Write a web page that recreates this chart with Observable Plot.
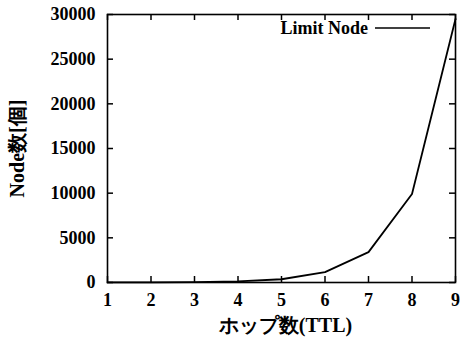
<!DOCTYPE html>
<html><head><meta charset="utf-8">
<script src="https://cdn.jsdelivr.net/npm/d3@7"></script>
<script src="https://cdn.jsdelivr.net/npm/@observablehq/plot@0.6"></script>
<style>
body{margin:0;background:#fff;}
svg text{font-family:"Liberation Serif","Times New Roman","DejaVu Serif",serif !important;}
</style>
</head><body><div id="chart"></div>
<script>
const hops = [1, 2, 3, 4, 5, 6, 7, 8, 9];
const nodes = [4, 13, 40, 121, 364, 1160, 3400, 9900, 29500];
const seriesName = "Limit Node";
const xTicks = [1, 2, 3, 4, 5, 6, 7, 8, 9];
const yTicks = [0, 5000, 10000, 15000, 20000, 25000, 30000];
const xLabel = "ホップ数(TTL)";
const yLabel = "Node数[個]";

const data = hops.map((h, i) => ({h, n: nodes[i]}));

const W = 460, H = 344, ML = 107, MR = 5, MT = 14, MB = 62, TICK = 6;
const FW = W - ML - MR, FH = H - MT - MB;

const legend = (index, scales, values, dim) => {
  const g = d3.create("svg:g");
  const y = dim.marginTop + 14;
  const x1 = dim.width - dim.marginRight - 80;
  g.append("line").attr("x1", x1).attr("x2", x1 + 55).attr("y1", y).attr("y2", y)
    .attr("stroke", "#000").attr("stroke-width", 1.6);
  g.append("text").attr("x", x1 - 7).attr("y", y).attr("dy", "0.35em")
    .attr("text-anchor", "end").attr("font-size", 18).attr("font-weight", "bold")
    .text(seriesName);
  return g.node();
};

const chart = Plot.plot({
  width: W,
  height: H,
  marginLeft: ML,
  marginRight: MR,
  marginTop: MT,
  marginBottom: MB,
  style: {fontSize: "18px", fontWeight: "bold", color: "#000", background: "#fff"},
  x: {domain: [1, 9]},
  y: {domain: [0, 30000]},
  marks: [
    Plot.axisX({ticks: xTicks, tickSize: 0, tickPadding: 11, label: null, tickFormat: d => String(d), fontSize: 18}),
    Plot.axisY({ticks: yTicks, tickSize: 0, tickPadding: 12, label: null, tickFormat: d => String(d), fontSize: 18}),
    Plot.tickX(xTicks, {x: d => d, insetTop: FH - TICK, stroke: "#000", strokeWidth: 1.5}),
    Plot.tickX(xTicks, {x: d => d, insetBottom: FH - TICK, stroke: "#000", strokeWidth: 1.5}),
    Plot.tickY(yTicks, {y: d => d, insetRight: FW - TICK, stroke: "#000", strokeWidth: 1.5}),
    Plot.tickY(yTicks, {y: d => d, insetLeft: FW - TICK, stroke: "#000", strokeWidth: 1.5}),
    Plot.frame({stroke: "#000", strokeWidth: 1.6}),
    Plot.line(data, {x: "h", y: "n", stroke: "#000", strokeWidth: 1.8}),
    legend,
    Plot.text([xLabel], {frameAnchor: "bottom", textAnchor: "middle", dy: 49, dx: 4, text: d => d, fontSize: 20, fontWeight: "bold"}),
    Plot.text([yLabel], {frameAnchor: "left", textAnchor: "middle", dx: -90, dy: 0, rotate: -90, text: d => d, fontSize: 20, fontWeight: "bold"})
  ]
});
document.getElementById("chart").appendChild(chart);
</script>
</body></html>
